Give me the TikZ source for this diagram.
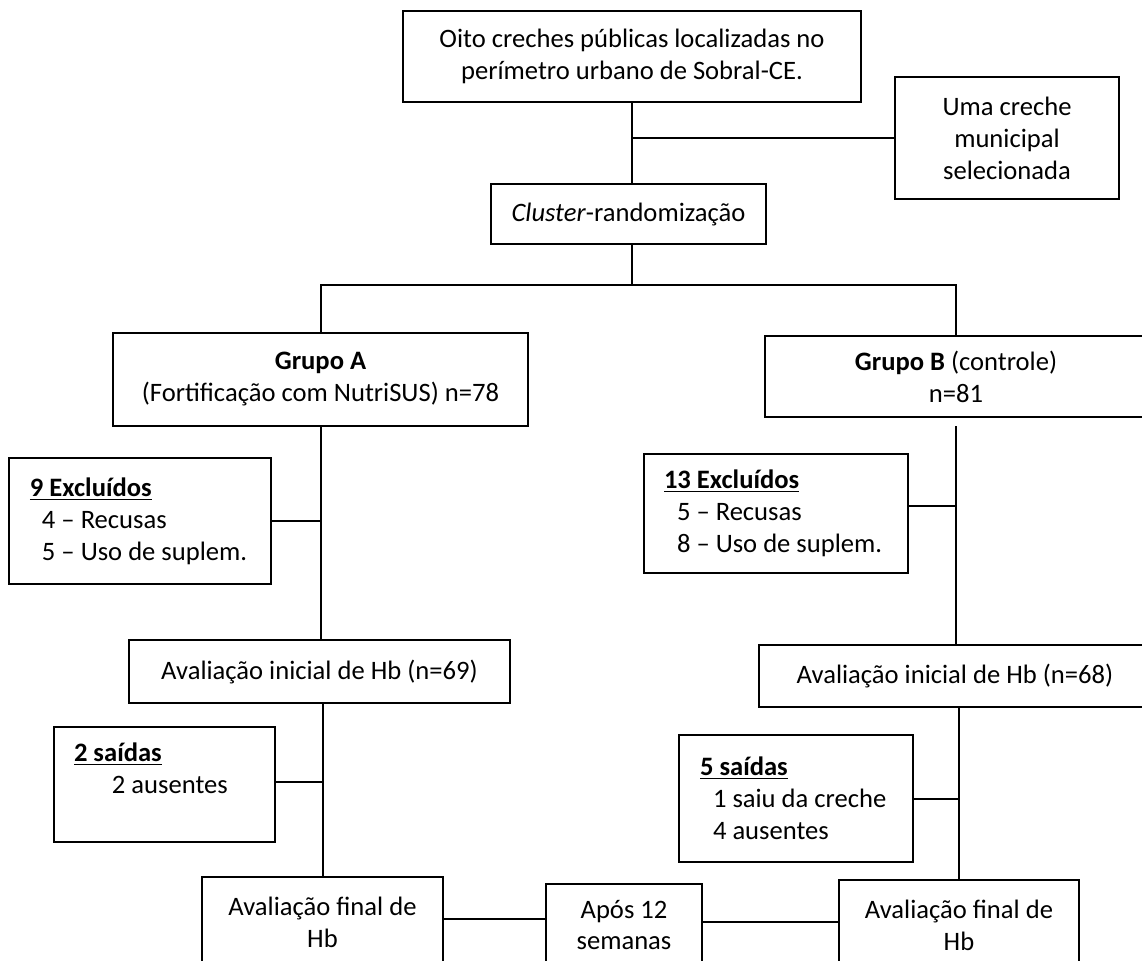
\documentclass[tikz,border=0pt]{standalone}
\usepackage{fontspec}
\setmainfont{Carlito}
\usetikzlibrary{positioning}

\begin{document}
\begin{tikzpicture}[x=0.5pt, y=-0.5pt]

\tikzset{
box/.style = {rectangle, draw, line width = 1pt, align = center, inner sep = 0pt,
	font = \fontsize{13.3}{16}\selectfont},
thinbox/.style = {box, line width = 0.6pt},
listbox/.style = {box, align = flush left},
link/.style = {line width = 1pt},
}

\clip (0,0) rectangle (1142,960);

%% Recruitment
\node at (632,56.5) [box, minimum width = 229pt, minimum height = 45.5pt] (pool)
	{Oito creches públicas localizadas no\\perímetro urbano de Sobral-CE.};
\node at (1007,138) [thinbox, minimum width = 112pt, minimum height = 61pt] (one)
	{Uma creche\\municipal\\selecionada};
\node at (628.5,214) [box, minimum width = 137.5pt, minimum height = 30pt] (rand)
	{\textit{Cluster}-randomização};

%% Groups
\node at (320.5,379.5) [box, minimum width = 207.5pt, minimum height = 46.5pt] (grpA)
	{\textbf{Grupo A}\\(Fortificação com NutriSUS) n=78};
\node at (956,376.5) [box, minimum width = 191pt, minimum height = 40.5pt] (grpB)
	{\textbf{Grupo B} (controle)\\n=81};

% Exclusions
\node at (140,521) [listbox, text width = 131pt, minimum height = 63pt] (exA)
	{\hspace*{10.5pt}\underline{\textbf{9 Excluídos}}\\
	 \hspace*{16.5pt}4 – Recusas\\
	 \hspace*{16.5pt}5 – Uso de suplem.};
\node at (776,513.5) [listbox, text width = 132pt, minimum height = 59.5pt] (exB)
	{\hspace*{10pt}\underline{\textbf{13 Excluídos}}\\
	 \hspace*{16.5pt}5 – Recusas\\
	 \hspace*{16.5pt}8 – Uso de suplem.};

%% Baseline Hb
\node at (319.5,671.5) [box, minimum width = 190.5pt, minimum height = 31.5pt] (iniA)
	{Avaliação inicial de Hb (n=69)};
\node at (955,676) [box, minimum width = 196pt, minimum height = 31pt] (iniB)
	{Avaliação inicial de Hb (n=68)};

% Dropouts
\node at (164.5,784.5) [listbox, text width = 110.5pt, minimum height = 57.5pt] (outA)
	{\hspace*{10pt}\underline{\textbf{2 saídas}}\\
	 \hspace*{29pt}2 ausentes\\~};
\node at (796,798.5) [listbox, text width = 117pt, minimum height = 63.5pt] (outB)
	{\hspace*{10.5pt}\underline{\textbf{5 saídas}}\\
	 \hspace*{17pt}1 saiu da creche\\
	 \hspace*{17pt}4 ausentes};

%% Final Hb
\node at (322.5,922) [box, minimum width = 120.5pt, minimum height = 45pt] (finA)
	{Avaliação final de\\Hb};
\node at (624,925) [thinbox, minimum width = 78pt, minimum height = 41pt] (wait)
	{Após 12\\semanas};
\node at (959,925) [box, minimum width = 120pt, minimum height = 45pt] (finB)
	{Avaliação final de\\Hb};

%% Connectors
\coordinate (split) at (632,285);
\draw [link] (pool.south) -- (pool.south |- rand.north);
\draw [link] (pool.south |- one.west) -- (one.west);
\draw [link] (pool.south |- rand.south) -- (split);
\draw [link] (grpA.north) |- (split) -| (grpB.north);

\draw [link] (grpA.south) -- (grpA.south |- iniA.north);
\draw [link] (exA.east) -- (exA.east -| grpA.south);
\draw [link, shorten <= 4pt] (grpB.south) -- (grpB.south |- iniB.north);
\draw [link] ([yshift = 3.75pt]exB.east) -- ([yshift = 3.75pt]exB.east -| grpB.south);

\draw [link] (finA.north |- iniA.south) -- (finA.north);
\draw [link] ([yshift = 1.25pt]outA.east) -- ([yshift = 1.25pt]outA.east -| finA.north);
\draw [link] (finB.north |- iniB.south) -- (finB.north);
\draw [link] (outB.east) -- (outB.east -| finB.north);

\draw [link] ([yshift = 1.5pt]finA.east) -- ([yshift = 1.5pt]finA.east -| wait.west);
\draw [link] ([yshift = 1.5pt]wait.east) -- ([yshift = 1.5pt]wait.east -| finB.west);

\end{tikzpicture}
\end{document}
